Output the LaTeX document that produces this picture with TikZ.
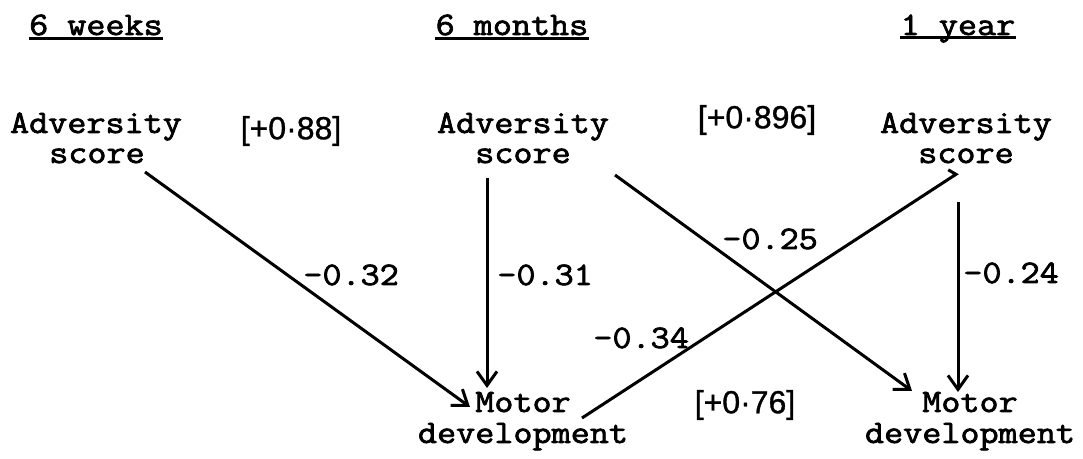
\documentclass[tikz,border=0pt]{standalone}
\usepackage{fontspec}
\newfontfamily\cour{Latin Modern Mono}[FakeStretch=1.13,FakeBold=2.2]
\newfontfamily\handfont{Liberation Sans}[FakeBold=1]
\usetikzlibrary{arrows.meta}
\begin{document}
\begin{tikzpicture}[x=0.5pt,y=-0.5pt,
  txt/.style={font=\cour\fontsize{16.4}{16}\selectfont, inner sep=0pt, anchor=base},
  hand/.style={font=\handfont\fontsize{16}{16}\selectfont, inner sep=0pt},
  lab/.style={font=\cour\fontsize{16.4}{16}\selectfont, inner sep=0pt, anchor=base west},
  uline/.style={line width=1.3pt},
  conn/.style={line width=1.5pt, -{Straight Barb[length=7pt,width=10pt,line width=1.5pt]}},
  hook/.style={line width=1.5pt, -{Straight Barb[left,length=2pt,width=8pt,line width=1.5pt]}}
]
\useasboundingbox (0,0) rectangle (1083,459);

% headings
\node[txt] (h1) at (96,35) {6 weeks};
\node[txt] (h2) at (512,35) {6 months};
\node[txt] (h3) at (958,35) {1 year};
\draw[uline] ([yshift=-1.8pt]h1.base west) -- ([yshift=-1.8pt]h1.base east);
\draw[uline] ([yshift=-1.8pt]h2.base west) -- ([yshift=-1.8pt]h2.base east);
\draw[uline] ([yshift=-1.2pt]h3.base west) -- ([yshift=-1.2pt]h3.base east);

% variables
\node[txt] (a1) at (96,133) {Adversity};
\node[txt] (a1s) at (97,163) {score};
\node[txt] (a2) at (523,133) {Adversity};
\node[txt] (a2s) at (523,163) {score};
\node[txt] (a3) at (966,133) {Adversity};
\node[txt] (a3s) at (966,163) {score};
\node[txt] (m2) at (523,412) {Motor};
\node[txt] (m2d) at (523,443) {development};
\node[txt] (m3) at (970,412) {Motor};
\node[txt] (m3d) at (970,443) {development};

% handwritten values
\node[hand] (b1) at (291,131) {[+0·88]};
\node[hand] (b2) at (757,120) {[+0·896]};
\node[hand] (b3) at (745,405) {[+0·76]};

% connector end points
\coordinate (e1s) at (145,172); \coordinate (e1t) at (470,407);
\coordinate (e2s) at (487,178); \coordinate (e2t) at (487,388);
\coordinate (e3s) at (615,175); \coordinate (e3t) at (912,391);
\coordinate (e4s) at (958,202); \coordinate (e4t) at (958,392);
\coordinate (e5s) at (582,418); \coordinate (e5t) at (958,173);

\draw[conn] (e1s) -- (e1t);
\draw[conn] (e2s) -- (e2t);
\draw[conn] (e3s) -- (e3t);
\draw[conn] (e4s) -- (e4t);
\draw[hook] (e5s) -- (e5t);

% coefficients
\node[lab] (l1) at (303,285) {-0.32};
\node[lab] (l2) at (497,285) {-0.31};
\node[lab] (l3) at (722,249) {-0.25};
\node[lab] (l4) at (963,283) {-0.24};
\node[lab] (l5) at (593,348) {-0.34};
\end{tikzpicture}
\end{document}
